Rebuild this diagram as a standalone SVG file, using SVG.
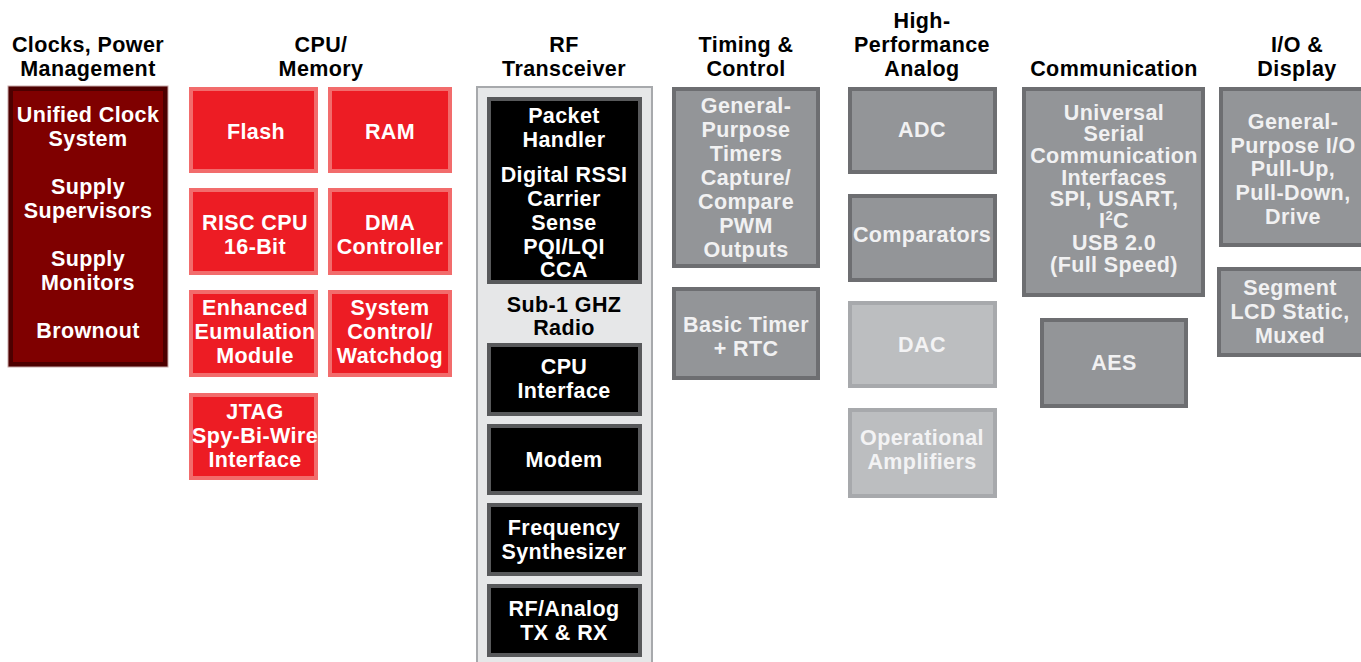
<svg xmlns="http://www.w3.org/2000/svg" width="1361" height="662" viewBox="0 0 1361 662">
<style>
text{font-family:"Liberation Sans",Arial,Helvetica,sans-serif;font-weight:bold;font-size:21.5px;letter-spacing:0.4px;text-anchor:middle}
.hd{fill:#000}
.w{fill:#fff}
.lt{fill:#f1f1f2}
.dim{fill:#f3f3f4}
.clk{fill:#7f0000;stroke:#4d0000;stroke-width:5}
.red{fill:#ed1c24;stroke:#f26c6c;stroke-width:4}
.blk{fill:#000;stroke:#58595b;stroke-width:4}
.gry{fill:#939598;stroke:#6d6e71;stroke-width:4}
.lgy{fill:#bcbec0;stroke:#a7a9ac;stroke-width:4}
.rf{fill:#e6e7e8;stroke:#a7a9ac;stroke-width:2}
</style>
<rect width="1361" height="662" fill="#fff"/>
<g id="headers" class="hd">
<text x="88" y="52">Clocks, Power</text><text x="88" y="76">Management</text>
<text x="321" y="52">CPU/</text><text x="321" y="76">Memory</text>
<text x="564" y="52">RF</text><text x="564" y="76">Transceiver</text>
<text x="746" y="52">Timing &amp;</text><text x="746" y="76">Control</text>
<text x="922" y="28">High-</text><text x="922" y="52">Performance</text><text x="922" y="76">Analog</text>
<text x="1114" y="76">Communication</text>
<text x="1297" y="52">I/O &amp;</text><text x="1297" y="76">Display</text>
</g>
<g id="connectors"/>
<g id="clocks">
<rect class="clk" x="10.5" y="88.5" width="155" height="276"/>
<rect x="8" y="86" width="160" height="281" fill="none" stroke="#c9a9a9" stroke-width="1"/>
<text class="w" x="88" y="122">Unified Clock</text><text class="w" x="88" y="146">System</text>
<text class="w" x="88" y="194">Supply</text><text class="w" x="88" y="218">Supervisors</text>
<text class="w" x="88" y="266">Supply</text><text class="w" x="88" y="290">Monitors</text>
<text class="w" x="88" y="338">Brownout</text>
</g>
<g id="flash"><rect class="red" x="191" y="89" width="125" height="82"/><text class="w" x="256" y="139">Flash</text></g>
<g id="ram"><rect class="red" x="330" y="89" width="120" height="82"/><text class="w" x="390" y="139">RAM</text></g>
<g id="risc-cpu"><rect class="red" x="191" y="190" width="125" height="83"/><text class="w" x="255" y="230">RISC CPU</text><text class="w" x="255" y="254">16-Bit</text></g>
<g id="dma"><rect class="red" x="330" y="190" width="120" height="83"/><text class="w" x="390" y="230">DMA</text><text class="w" x="390" y="254">Controller</text></g>
<g id="eem"><rect class="red" x="191" y="292" width="125" height="83"/><text class="w" x="255" y="315">Enhanced</text><text class="w" x="255" y="339">Eumulation</text><text class="w" x="255" y="363">Module</text></g>
<g id="sysctl"><rect class="red" x="330" y="292" width="120" height="83"/><text class="w" x="390" y="315">System</text><text class="w" x="390" y="339">Control/</text><text class="w" x="390" y="363">Watchdog</text></g>
<g id="jtag"><rect class="red" x="191" y="395" width="125" height="83"/><text class="w" x="255" y="419">JTAG</text><text class="w" x="255" y="443">Spy-Bi-Wire</text><text class="w" x="255" y="467">Interface</text></g>
<g id="rf-transceiver">
<rect class="rf" x="477" y="87" width="175" height="585"/>
<text class="hd" x="564" y="312">Sub-1 GHZ</text><text class="hd" x="564" y="335">Radio</text>
</g>
<g id="packet-handler"><rect class="blk" x="489" y="99" width="151" height="183"/>
<text class="w" x="564" y="123">Packet</text><text class="w" x="564" y="147">Handler</text>
<text class="w" x="564" y="182">Digital RSSI</text><text class="w" x="564" y="206">Carrier</text><text class="w" x="564" y="230">Sense</text><text class="w" x="564" y="254">PQI/LQI</text><text class="w" x="564" y="277">CCA</text></g>
<g id="cpu-interface"><rect class="blk" x="489" y="345" width="151" height="69"/><text class="w" x="564" y="374">CPU</text><text class="w" x="564" y="398">Interface</text></g>
<g id="modem"><rect class="blk" x="489" y="426" width="151" height="67"/><text class="w" x="564" y="467">Modem</text></g>
<g id="freq-synth"><rect class="blk" x="489" y="505" width="151" height="69"/><text class="w" x="564" y="535">Frequency</text><text class="w" x="564" y="559">Synthesizer</text></g>
<g id="rf-analog"><rect class="blk" x="489" y="586" width="151" height="69"/><text class="w" x="564" y="616">RF/Analog</text><text class="w" x="564" y="640">TX &amp; RX</text></g>
<g id="gp-timers"><rect class="gry" x="674" y="89" width="144" height="177"/>
<text class="lt" x="746" y="113">General-</text><text class="lt" x="746" y="137">Purpose</text><text class="lt" x="746" y="161">Timers</text><text class="lt" x="746" y="185">Capture/</text><text class="lt" x="746" y="209">Compare</text><text class="lt" x="746" y="233">PWM</text><text class="lt" x="746" y="257">Outputs</text></g>
<g id="basic-timer"><rect class="gry" x="674" y="289" width="144" height="89"/><text class="lt" x="746" y="332">Basic Timer</text><text class="lt" x="746" y="356">+ RTC</text></g>
<g id="adc"><rect class="gry" x="850" y="89" width="145" height="83"/><text class="lt" x="922" y="137">ADC</text></g>
<g id="comparators"><rect class="gry" x="850" y="196" width="145" height="84"/><text class="lt" x="922" y="242">Comparators</text></g>
<g id="dac"><rect class="lgy" x="850" y="303" width="145" height="83"/><text class="dim" x="922" y="352">DAC</text></g>
<g id="opamps"><rect class="lgy" x="850" y="410" width="145" height="86"/><text class="dim" x="922" y="445">Operational</text><text class="dim" x="922" y="469">Amplifiers</text></g>
<g id="usci"><rect class="gry" x="1024" y="89" width="179" height="206"/>
<text class="lt" x="1114" y="120">Universal</text><text class="lt" x="1114" y="141">Serial</text><text class="lt" x="1114" y="163">Communication</text><text class="lt" x="1114" y="185">Interfaces</text><text class="lt" x="1114" y="206">SPI, USART,</text><text class="lt" x="1114" y="228">I<tspan font-size="13" dy="-8">2</tspan><tspan dy="8">C</tspan></text><text class="lt" x="1114" y="250">USB 2.0</text><text class="lt" x="1114" y="272">(Full Speed)</text></g>
<g id="aes"><rect class="gry" x="1042" y="320" width="144" height="86"/><text class="lt" x="1114" y="370">AES</text></g>
<g id="gpio"><rect class="gry" x="1221" y="89" width="150" height="156"/>
<text class="lt" x="1293" y="129">General-</text><text class="lt" x="1293" y="153">Purpose I/O</text><text class="lt" x="1293" y="176">Pull-Up,</text><text class="lt" x="1293" y="200">Pull-Down,</text><text class="lt" x="1293" y="224">Drive</text></g>
<g id="lcd"><rect class="gry" x="1219" y="269" width="152" height="86"/><text class="lt" x="1290" y="295">Segment</text><text class="lt" x="1290" y="319">LCD Static,</text><text class="lt" x="1290" y="343">Muxed</text></g>
</svg>
